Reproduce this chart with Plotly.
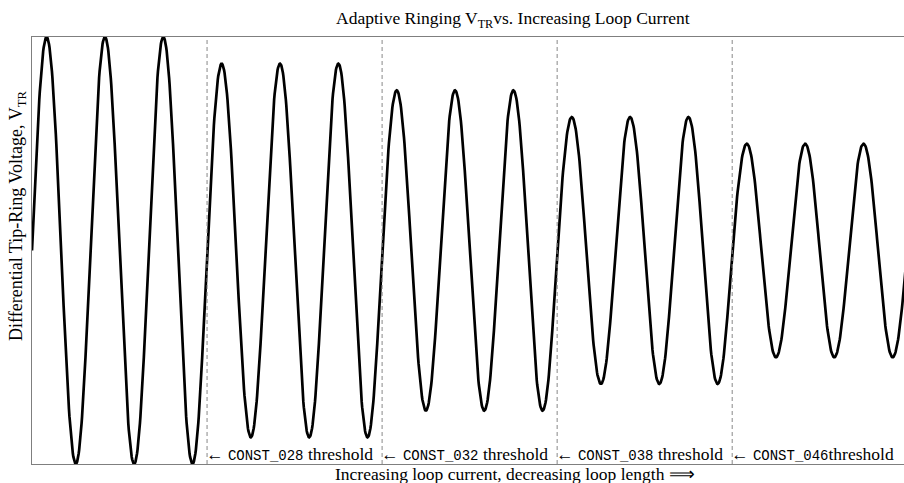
import numpy as np
import plotly.graph_objects as go

# Data
segment_amplitudes = [1.0, 0.875, 0.75, 0.625, 0.5]   # relative V_TR amplitude per segment
cycles_per_segment = [3, 3, 3, 3, 3]
threshold_names = ["CONST_028", "CONST_032", "CONST_038", "CONST_046"]
threshold_suffix = [" threshold", " threshold", " threshold", "threshold"]

title_text = "Adaptive Ringing V<sub>TR</sub>vs. Increasing Loop Current"
xlabel_text = "Increasing loop current, decreasing loop length \u27f9"
ylabel_text = "Differential Tip-Ring Voltage, V<sub>TR</sub>"

# Build waveform from segment amplitudes
xs, ys = [], []
start = 0.0
boundaries = []
for amp, cyc in zip(segment_amplitudes, cycles_per_segment):
    t = np.linspace(0, cyc, cyc * 120 + 1)
    xs.append(start + t)
    ys.append(amp * np.sin(2 * np.pi * t))
    start += cyc
    boundaries.append(start)
boundaries = boundaries[:-1]
x = np.concatenate(xs)
y = np.concatenate(ys)

W, H = 904, 483
L, R, T, B = 32, 0, 37, 19
pw, ph = W - L - R, H - T - B

fig = go.Figure()
fig.add_trace(go.Scatter(x=x, y=y, mode="lines",
                         line=dict(color="black", width=2.7), hoverinfo="skip"))

serif = "Liberation Serif"
mono = "Liberation Mono"

shapes = []
annotations = []
for b, name, suf in zip(boundaries, threshold_names, threshold_suffix):
    shapes.append(dict(type="line", xref="x", yref="paper", x0=b, x1=b, y0=0, y1=1,
                       line=dict(color="#888888", width=1, dash="4px,3px")))
    annotations.append(dict(
        xref="x", yref="paper", x=b, y=10 / ph, xanchor="left", yanchor="middle",
        xshift=-3, showarrow=False,
        text="\u2190 <span style=\"font-family:'%s';font-size:14px\">%s</span>%s" % (mono, name, suf),
        font=dict(family=serif, size=17.5, color="black")))

annotations.append(dict(xref="paper", yref="paper", x=(513 - L) / pw, y=1 + (T - 20) / ph,
                        xanchor="center", yanchor="middle", showarrow=False,
                        text=title_text, font=dict(family=serif, size=17.5, color="black")))
annotations.append(dict(xref="paper", yref="paper", x=(515 - L) / pw, y=-(474 - 464) / ph,
                        xanchor="center", yanchor="middle", showarrow=False,
                        text=xlabel_text, font=dict(family=serif, size=17.5, color="black")))
annotations.append(dict(xref="paper", yref="paper", x=(17 - L) / pw, y=(464 - 216) / ph,
                        xanchor="center", yanchor="middle", showarrow=False, textangle=-90,
                        text=ylabel_text, font=dict(family=serif, size=18, color="black")))

period_px = 58.35
fig.update_layout(
    width=W, height=H, margin=dict(l=L, r=R, t=T, b=B, pad=0),
    plot_bgcolor="white", paper_bgcolor="white", showlegend=False,
    shapes=shapes, annotations=annotations,
    xaxis=dict(range=[0, pw / period_px], showgrid=False, zeroline=False,
               showticklabels=False, ticks="", showline=True, mirror=True,
               linecolor="#7f7f7f", linewidth=1),
    yaxis=dict(range=[-1, 1], showgrid=False, zeroline=False,
               showticklabels=False, ticks="", showline=True, mirror=False,
               linecolor="#7f7f7f", linewidth=1),
)

fig.write_html("out.html")
